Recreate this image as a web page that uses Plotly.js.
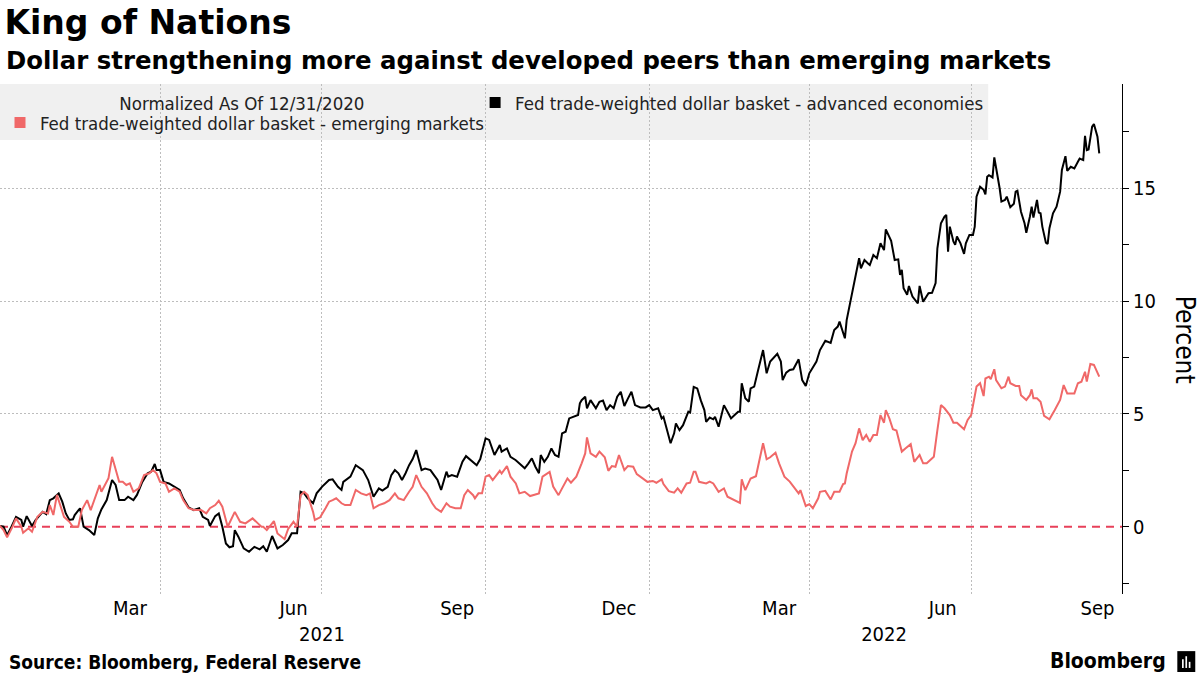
<!DOCTYPE html>
<html>
<head>
<meta charset="utf-8">
<script src="https://cdn.plot.ly/plotly-3.0.1.min.js"></script>
<style>html,body{margin:0;padding:0;background:#fff;}#chart{width:1200px;height:675px;}</style>
</head>
<body>
<div id="chart"></div>
<script>
// Day offsets are counted from 2021-01-01 (values normalized as of 12/31/2020, in percent)
const advDays = [-1,0,2,4,6,9,12,13,15,18,20,24,26,28,30,33,35,37,39,41,42,45,47,50,53,55,57,60,63,65,67,70,72,75,77,80,83,85,87,88,90,92,95,98,101,103,106,109,112,114,117,118,121,123,125,127,129,131,132,134,137,140,143,146,148,150,153,156,159,162,164,167,169,171,173,176,178,181,185,187,190,192,193,197,200,204,207,210,213,215,218,220,222,224,226,228,230,232,234,236,237,239,242,244,246,248,251,252,254,257,260,262,265,268,270,273,275,278,281,282,285,287,290,293,295,297,299,301,303,304,306,308,310,312,314,316,318,320,323,325,326,327,329,330,332,335,337,339,341,343,345,347,349,351,353,355,357,360,363,365,367,370,372,373,375,377,379,380,382,384,387,388,390,392,394,396,397,399,401,402,404,407,409,411,413,415,416,417,419,421,422,424,426,429,431,433,437,439,440,442,444,446,449,451,453,455,459,461,464,467,469,471,472,475,476,478,480,483,484,486,488,489,491,493,495,497,498,501,503,505,506,507,508,510,511,513,516,517,519,521,522,524,526,527,529,531,532,533,534,536,537,538,540,542,543,545,547,548,549,551,553,554,555,556,558,559,560,562,563,565,566,568,570,571,572,574,576,577,579,580,581,583,584,585,586,588,589,590,592,594,596,597,599,600,602,604,606,607,609,610,611,612,614,615,617,618];
const advValues = [0,0.03,0.0,-0.37,-0.07,0.44,0.30,0.0,0.47,0.03,0.30,0.66,0.56,1.18,1.26,1.48,1.11,0.59,0.30,0.33,0.52,0.82,0.0,-0.15,-0.37,0.37,0.77,1.18,2.07,1.85,1.18,1.18,1.33,1.18,1.41,1.99,2.37,2.44,2.78,2.51,2.51,1.99,1.92,1.77,1.63,1.26,0.86,0.74,0.82,0.44,0.30,0.03,0.47,0.59,0.0,-0.74,-0.91,-0.86,-0.15,-0.44,-0.96,-1.11,-0.89,-1.0,-0.86,-1.11,-0.41,-0.96,-0.81,-0.59,-0.29,-0.29,1.55,1.48,1.26,1.04,1.48,1.77,2.07,2.10,1.77,1.63,1.99,2.22,2.73,2.51,2.07,1.33,1.70,1.60,1.77,2.29,2.51,2.37,2.07,2.37,2.73,3.0,3.40,2.80,2.51,2.58,2.51,2.29,2.07,1.63,2.44,2.22,2.29,2.22,2.88,3.13,2.95,2.73,3.0,3.92,3.85,3.18,3.62,3.33,3.47,3.10,2.95,2.73,2.59,2.80,3.03,2.66,2.37,3.18,2.88,3.10,3.47,3.18,3.10,4.14,4.21,4.80,4.87,4.95,5.47,5.61,5.76,5.25,5.61,5.25,5.54,5.59,5.17,5.39,5.25,5.76,5.98,5.35,5.68,5.98,5.39,5.29,5.29,5.39,5.17,5.25,4.80,4.87,4.29,3.70,4.14,4.58,4.28,4.50,5.10,5.06,6.20,6.13,5.60,5.17,4.65,4.84,4.76,4.87,4.43,5.39,5.10,4.80,4.95,5.10,5.10,6.36,5.69,5.54,6.13,6.21,6.87,7.83,6.80,7.32,7.66,7.32,6.50,6.83,6.95,6.98,7.42,6.50,6.24,6.80,7.32,7.83,8.24,8.15,8.72,8.87,9.09,8.35,9.16,9.97,10.63,11.90,11.45,11.82,11.67,11.60,12.04,11.90,12.56,12.26,13.18,12.67,11.82,11.85,11.16,11.38,10.57,10.28,10.67,10.20,9.90,10.67,9.97,10.20,10.35,10.37,10.80,12.34,13.45,13.74,13.82,12.19,13.30,12.64,12.49,12.86,12.56,12.09,12.56,12.93,12.93,13.30,14.63,15.07,14.93,14.73,15.51,15.58,15.48,16.37,15.95,15.0,14.41,14.48,14.63,14.16,14.31,14.85,14.89,13.96,13.45,13.03,13.74,14.18,13.70,14.48,13.92,13.89,13.30,12.59,12.53,13.23,13.89,14.18,14.85,15.81,16.42,15.77,15.95,15.88,16.17,16.32,16.25,17.32,16.69,16.72,17.73,17.85,17.28,16.55];

const emDays = [-1,0,2,4,7,9,12,13,16,18,21,24,27,28,30,32,36,39,41,44,46,49,51,54,56,57,59,61,63,65,67,69,71,73,75,78,81,84,86,88,90,93,95,98,101,103,106,109,113,116,118,121,123,125,128,132,133,135,138,142,145,147,148,150,154,156,160,162,165,167,169,171,173,176,177,180,183,185,187,189,192,194,197,200,203,206,208,210,213,216,219,222,224,227,230,232,234,236,237,240,243,245,248,251,253,256,259,261,263,266,267,269,271,273,275,277,281,282,285,287,290,292,295,298,301,303,305,307,309,311,314,316,319,321,324,327,329,330,332,335,337,340,342,344,346,348,351,353,356,358,361,364,367,369,372,373,376,379,381,383,386,388,390,391,393,397,399,401,404,407,409,412,416,417,419,422,425,429,431,433,436,438,441,444,446,449,450,453,455,457,460,461,464,467,469,472,474,475,476,479,481,483,485,487,489,491,493,495,497,498,500,502,504,506,507,509,512,514,517,519,521,523,525,527,529,531,534,536,538,542,544,546,547,549,551,553,554,556,557,559,560,563,565,567,568,571,573,574,577,579,580,581,583,585,587,590,593,596,598,600,604,606,608,610,611,613,615,618];
const emValues = [0,0.03,-0.15,-0.47,0.0,0.37,0.0,-0.27,-0.07,-0.22,0.44,0.66,0.59,0.96,0.52,1.41,0.44,0.22,0.0,0.0,0.74,1.18,0.74,1.41,1.85,1.55,1.85,2.15,3.10,2.51,1.99,1.99,1.85,1.92,1.55,1.70,2.29,2.37,2.51,2.37,1.99,1.92,1.55,1.70,1.55,1.18,0.82,0.74,0.74,0.59,0.82,0.96,1.15,0.89,0.0,0.66,0.50,0.22,0.15,0.37,0.15,0.0,0.0,-0.15,0.25,-0.30,-0.55,-0.10,0.22,0.0,1.40,1.55,1.40,0.66,0.30,0.42,0.82,1.11,1.18,1.26,1.04,0.96,0.96,1.63,1.48,1.40,1.48,0.82,0.96,1.04,1.18,1.48,1.26,1.18,1.55,1.77,2.29,1.92,1.77,1.48,1.04,0.82,0.66,1.04,0.89,0.82,0.82,1.40,1.63,1.40,1.26,1.48,1.48,2.22,2.29,2.07,2.48,2.36,2.69,2.22,1.92,1.48,1.55,1.36,1.45,1.48,2.22,2.34,2.43,1.78,1.40,1.70,2.14,1.95,2.22,2.81,3.25,3.96,3.25,3.10,3.33,3.08,2.48,2.69,2.66,3.18,2.51,2.69,2.66,2.33,2.14,1.99,2.03,1.95,2.10,1.89,1.58,1.51,1.70,1.51,1.92,1.95,2.44,2.44,1.99,1.92,2.00,1.92,1.55,1.70,1.33,1.21,1.06,2.10,1.62,2.14,2.24,3.70,2.99,3.08,3.28,2.81,2.22,2.00,1.77,1.48,1.62,0.92,1.0,0.82,1.26,1.55,1.59,1.21,1.55,1.55,1.89,1.92,2.36,3.33,3.70,4.36,3.84,4.07,3.77,4.07,4.07,4.95,4.61,5.17,4.80,4.32,4.26,3.70,3.33,3.47,3.66,2.88,3.18,2.81,2.81,2.96,3.10,4.28,5.39,5.25,4.95,4.61,4.61,4.32,4.73,4.95,5.35,6.21,6.36,5.79,6.57,6.65,6.54,6.98,6.50,6.14,6.21,6.65,6.36,6.24,6.24,5.83,5.62,5.83,6.09,5.69,5.69,5.54,4.91,4.76,5.17,5.62,6.28,5.91,5.91,6.36,6.43,6.87,6.43,7.21,7.17,6.65];

const monthTickDates = ['2021-03-15','2021-06-15','2021-09-15','2021-12-15','2022-03-15','2022-06-15','2022-09-10','2021-07-01','2022-05-13'];
const monthTickLabels = ['Mar','Jun','Sep','Dec','Mar','Jun','Sep','<br>2021','<br>2022'];
const gridDates = ['2021-01-01','2021-04-01','2021-07-01','2021-10-01','2022-01-01','2022-04-01','2022-07-01'];
const yLabelVals = [0, 5, 10, 15];
const yGridVals = [5, 10, 15];

const advName = 'Fed trade-weighted dollar basket - advanced economies';
const emName = 'Fed trade-weighted dollar basket - emerging markets';
const legendHeading = 'Normalized As Of 12/31/2020';

function dayToDate(d) {
  return new Date(Date.UTC(2021, 0, 1) + d * 86400000).toISOString().slice(0, 10);
}
const advDates = advDays.map(dayToDate);
const emDates = emDays.map(dayToDate);

const FONT = '"DejaVu Sans Condensed", "DejaVu Sans", sans-serif';
const BLACK = '#000000';
const RED = '#f06868';
const GRID = '#bdbdbd';
const NB = '\u00a0';
const Y_RANGE = [-2.98, 19.62];
const LEGEND_FONT = {family: FONT, size: 18.5, color: '#222'};

const traces = [
  {type: 'scatter', mode: 'lines', x: advDates, y: advValues, name: advName,
   line: {color: BLACK, width: 2}, showlegend: false, hoverinfo: 'skip'},
  {type: 'scatter', mode: 'lines', x: emDates, y: emValues, name: emName,
   line: {color: RED, width: 2}, showlegend: false, hoverinfo: 'skip'},
  {type: 'scatter', mode: 'markers', x: [null], y: [null], yaxis: 'y2',
   name: NB.repeat(15) + legendHeading + NB.repeat(20), legend: 'legend',
   marker: {color: 'rgba(0,0,0,0)', size: 1}, showlegend: true, hoverinfo: 'skip'},
  {type: 'scatter', mode: 'markers', x: [null], y: [null], name: advName, legend: 'legend',
   marker: {color: BLACK, symbol: 'square', size: 11}, showlegend: true, hoverinfo: 'skip'},
  {type: 'scatter', mode: 'markers', x: [null], y: [null], name: emName, legend: 'legend2',
   marker: {color: RED, symbol: 'square', size: 11}, showlegend: true, hoverinfo: 'skip'}
];

const layout = {
  width: 1200, height: 675,
  margin: {l: 0, r: 78, t: 84, b: 81, pad: 0},
  paper_bgcolor: '#ffffff', plot_bgcolor: '#ffffff',
  font: {family: FONT, color: '#000'},
  title: {
    text: 'King of Nations',
    font: {family: '"DejaVu Sans", sans-serif', size: 33, weight: 'bold', color: '#000'},
    xref: 'paper', x: 0.004, xanchor: 'left',
    yref: 'container', y: 0.9674, yanchor: 'middle', pad: {t: 0, b: 0, l: 0, r: 0}
  },
  showlegend: true,
  legend: {
    orientation: 'h', x: 0, xanchor: 'left', y: 1, yanchor: 'top',
    bgcolor: 'rgba(0,0,0,0)', borderwidth: 0,
    font: LEGEND_FONT, itemclick: false, itemdoubleclick: false
  },
  legend2: {
    orientation: 'h', x: 0, xanchor: 'left', y: 0.9608, yanchor: 'top',
    bgcolor: 'rgba(0,0,0,0)', borderwidth: 0,
    font: LEGEND_FONT, itemclick: false, itemdoubleclick: false
  },
  xaxis: {
    type: 'date',
    range: ['2021-01-01', '2022-09-23 19:00'],
    tickmode: 'array', tickvals: monthTickDates, ticktext: monthTickLabels,
    tickangle: 0, ticks: '', showgrid: false, showline: false, zeroline: false,
    tickfont: {family: FONT, size: 20, color: '#000'},
    minor: {tickmode: 'array', tickvals: gridDates, ticks: '', showgrid: true,
            gridcolor: GRID, gridwidth: 1, griddash: '2px,2px'},
    fixedrange: true
  },
  yaxis: {
    side: 'right', range: Y_RANGE,
    tickmode: 'array', tickvals: yLabelVals,
    ticks: 'outside', ticklen: 6, tickwidth: 1, tickcolor: '#000',
    showline: true, linecolor: '#000', linewidth: 1,
    showgrid: false, zeroline: false,
    tickfont: {family: FONT, size: 20, color: '#000'},
    minor: {tickmode: 'linear', tick0: 0, dtick: 2.5, ticks: 'outside', ticklen: 6,
            tickcolor: '#000', tickwidth: 1, showgrid: false},
    fixedrange: true
  },
  yaxis2: {
    overlaying: 'y', side: 'right', range: Y_RANGE,
    tickmode: 'array', tickvals: yGridVals, showticklabels: false, ticks: '',
    showline: false, zeroline: false,
    showgrid: true, gridcolor: GRID, gridwidth: 1, griddash: '2px,2px',
    fixedrange: true
  },
  shapes: [
    // legend background panel
    {type: 'rect', xref: 'paper', yref: 'paper', x0: 0, x1: 0.8808, y0: 0.8902, y1: 1,
     fillcolor: 'rgba(128,128,128,0.12)', line: {width: 0}, layer: 'below'},
    // zero reference line
    {type: 'line', xref: 'paper', x0: 0, x1: 1, yref: 'y', y0: 0, y1: 0,
     line: {color: '#e8405a', width: 2, dash: '8px,6px'}, layer: 'below'},
    // Bloomberg mark
    {type: 'rect', xref: 'paper', yref: 'paper', x0: 1.0493, x1: 1.0653, y0: -0.153, y1: -0.112,
     fillcolor: '#000', line: {width: 0}},
    {type: 'rect', xref: 'paper', yref: 'paper', x0: 1.0535, x1: 1.0550, y0: -0.145, y1: -0.128,
     fillcolor: '#fff', line: {width: 0}},
    {type: 'rect', xref: 'paper', yref: 'paper', x0: 1.0565, x1: 1.0580, y0: -0.145, y1: -0.122,
     fillcolor: '#fff', line: {width: 0}},
    {type: 'rect', xref: 'paper', yref: 'paper', x0: 1.0595, x1: 1.0610, y0: -0.145, y1: -0.133,
     fillcolor: '#fff', line: {width: 0}}
  ],
  annotations: [
    {text: 'Dollar strengthening more against developed peers than emerging markets',
     xref: 'paper', yref: 'paper', x: 0.004, y: 1.047, xanchor: 'left', yanchor: 'middle',
     showarrow: false, font: {family: '"DejaVu Sans", sans-serif', size: 24.4, weight: 'bold', color: '#000'}},
    {text: 'Percent', textangle: 90,
     xref: 'paper', yref: 'paper', x: 1.0564, y: 0.498, xanchor: 'center', yanchor: 'middle',
     showarrow: false, font: {family: FONT, size: 26, color: '#000'}},
    {text: 'Source: Bloomberg, Federal Reserve',
     xref: 'paper', yref: 'paper', x: 0.006, y: -0.1333, xanchor: 'left', yanchor: 'middle',
     showarrow: false, font: {family: FONT, size: 19, weight: 'bold', color: '#000'}},
    {text: 'Bloomberg',
     xref: 'paper', yref: 'paper', x: 1.0413, y: -0.131, xanchor: 'right', yanchor: 'middle',
     showarrow: false, font: {family: FONT, size: 21, weight: 'bold', color: '#000'}}
  ]
};

Plotly.newPlot('chart', traces, layout, {displayModeBar: false, staticPlot: true});
</script>
</body>
</html>
